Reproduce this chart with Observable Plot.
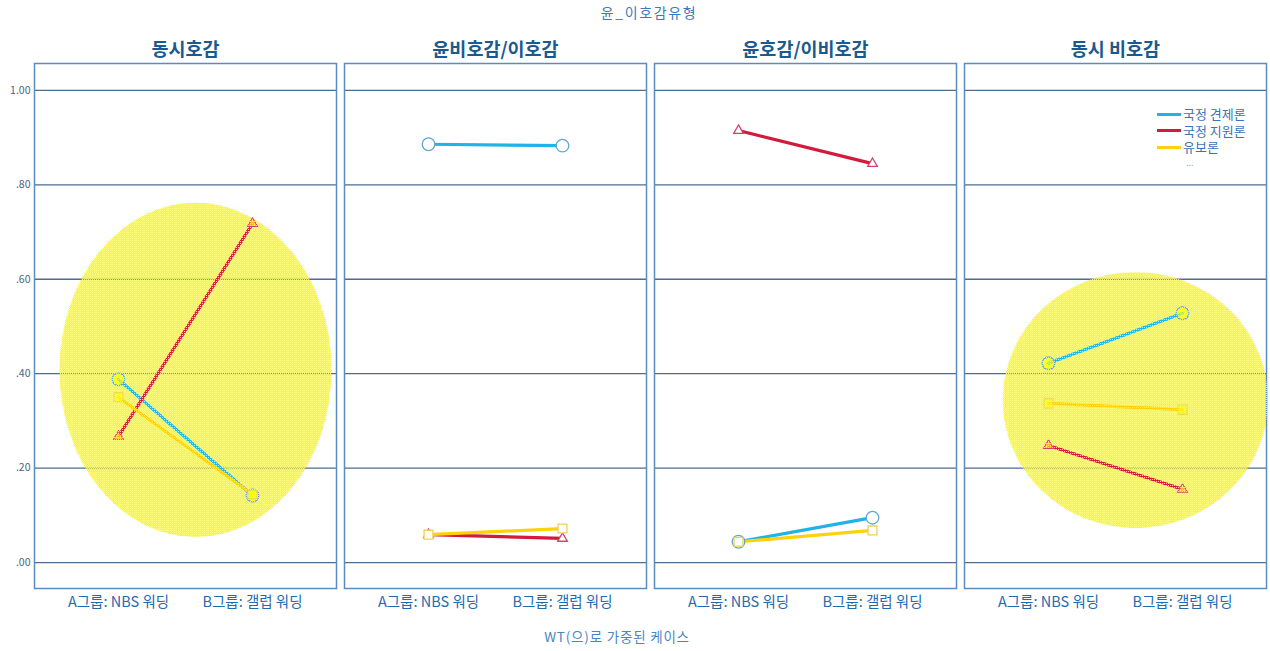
<!DOCTYPE html>
<html><head><meta charset="utf-8">
<script src="https://cdn.jsdelivr.net/npm/d3@7"></script>
<script src="https://cdn.jsdelivr.net/npm/@observablehq/plot@0.6"></script>
<style>
body{margin:0;background:#fff;font-family:"Noto Sans CJK KR","Noto Sans",sans-serif;}
#wrap{position:relative;width:1270px;height:651px;overflow:hidden;}
#title{position:absolute;left:0;top:2px;width:1298px;text-align:center;font-size:14px;letter-spacing:1.6px;line-height:20px;color:#3d7bb8;}
#chart{position:absolute;left:0;top:24px;}
#caption{position:absolute;left:0;top:626px;width:1234px;text-align:center;font-size:13.5px;letter-spacing:0.8px;line-height:20px;color:#4a86bf;}
#legend{position:absolute;left:1157px;top:106px;font-size:13px;line-height:16.5px;color:#3a74ba;}
#legend .row{display:flex;align-items:center;}
#legend .sw{width:24px;height:3px;margin-right:2px;}
#legend .more{color:#9aaabb;font-size:9px;line-height:9px;margin-top:2px;padding-left:29px;}
</style></head><body>
<div id="wrap">
<div id="title">윤_이호감유형</div>
<div id="chart"></div>
<div id="legend"></div>
<div id="caption">WT(으)로 가중된 케이스</div>
</div>
<script>
const panels = ["동시호감", "윤비호감/이호감", "윤호감/이비호감", "동시 비호감"];
const groups = ["A그룹: NBS 워딩", "B그룹: 갤럽 워딩"];
const series = ["국정 견제론", "국정 지원론", "유보론"];
const lineColors = ["#1fb3e8", "#d31a3c", "#fdd20c"];
const markerColors = ["#5ea8cf", "#d8406a", "#f0cf5a"];
const yTicks = [0, 0.2, 0.4, 0.6, 0.8, 1.0];
// values per panel: [A, B]
const gyeonje = [[0.388, 0.142], [0.886, 0.883], [0.044, 0.095], [0.422, 0.528]];
const jiwon   = [[0.267, 0.718], [0.059, 0.051], [0.915, 0.845], [0.248, 0.155]];
const yubo    = [[0.350, 0.144], [0.059, 0.072], [0.044, 0.068], [0.337, 0.324]];
// highlight ellipses: panel, center (fraction between A and B), center value, radius (A–B units), radius (value units)
const ellipsePanels = ["동시호감", "동시 비호감"];
const ellipseCx = [0.578, 0.652];
const ellipseCy = [0.407, 0.343];
const ellipseRx = [1.015, 0.99];
const ellipseRy = [0.354, 0.271];

const allVals = [gyeonje, jiwon, yubo];
const rows = [];
series.forEach((s, si) => panels.forEach((p, pi) => groups.forEach((g, gi) =>
  rows.push({panel: p, series: s, group: g, value: allVals[si][pi][gi]}))));
const ellipses = ellipsePanels.map((p, i) => ({panel: p, cx: ellipseCx[i], cy: ellipseCy[i], rx: ellipseRx[i], ry: ellipseRy[i]}));

const fmt = d => d3.format(".2f")(d).replace(/^0/, "");
const symbols = ["circle", "triangle", "square"];
const radii = [6.3, 3.6, 5.0];

function ellipseMark(patternId) {
  return Plot.dot(ellipses, {
    fx: "panel", x: () => groups[0], y: "cy",
    render(index, scales) {
      const g = d3.create("svg:g");
      const xa = scales.x(groups[0]), xb = scales.x(groups[1]), step = xb - xa;
      for (const i of index) {
        const d = ellipses[i];
        const cy = scales.y(d.cy);
        g.append("ellipse")
          .attr("cx", xa + d.cx * step).attr("cy", cy)
          .attr("rx", d.rx * step).attr("ry", Math.abs(scales.y(d.cy + d.ry) - cy))
          .attr("fill", `url(#${patternId})`);
      }
      return g.node();
    }
  });
}

const inEllipse = d => ellipsePanels.includes(d.panel);

const svg = Plot.plot({
  width: 1270, height: 600,
  marginTop: 39, marginBottom: 36, marginLeft: 33, marginRight: 3,
  style: {fontFamily: "'Noto Sans CJK KR', sans-serif", background: "white"},
  fx: {domain: panels, paddingInner: 0.0258, paddingOuter: 0, label: null},
  x: {type: "point", domain: groups, padding: 0.626, label: null},
  y: {domain: [-0.055, 1.057], label: null},
  color: {domain: series, range: lineColors},
  marks: [
    Plot.gridY(yTicks, {stroke: "#4d6d8f", strokeOpacity: 1, strokeWidth: 1.3}),
    ellipseMark("ditherBase"),
    Plot.frame({stroke: "#5a8cc2", strokeWidth: 1.5}),
    Plot.line(rows, {fx: "panel", x: "group", y: "value", z: "series", stroke: "series", strokeWidth: 3.2}),
    ...series.flatMap((s, si) => [
      Plot.dot(rows.filter(d => d.series === s && !inEllipse(d)), {
        fx: "panel", x: "group", y: "value", symbol: symbols[si], r: radii[si],
        stroke: markerColors[si], fill: "white", strokeWidth: 1.3
      }),
      Plot.dot(rows.filter(d => d.series === s && inEllipse(d)), {
        fx: "panel", x: "group", y: "value", symbol: symbols[si], r: radii[si],
        stroke: markerColors[si], fill: "url(#ditherBase)", strokeWidth: 1.3
      })
    ]),
    ellipseMark("ditherTop"),
    Plot.axisFx({anchor: "top", tickSize: 0, tickPadding: 8, fontSize: 18.5, fontWeight: "bold", fill: "#1b5a8e", label: null}),
    Plot.axisY(yTicks, {anchor: "left", tickSize: 0, tickPadding: 4, tickFormat: fmt, fontSize: 10.5, fill: "#4a6585", label: null}),
    Plot.axisX({anchor: "bottom", tickSize: 0, tickPadding: 8, fontSize: 14.5, fill: "#1f6bb0", label: null})
  ]
});

const defs = d3.select(svg).insert("defs", ":first-child");
const basePat = defs.append("pattern").attr("id", "ditherBase").attr("width", 2).attr("height", 2).attr("patternUnits", "userSpaceOnUse");
basePat.append("rect").attr("x", 0).attr("y", 0).attr("width", 1).attr("height", 1).attr("fill", "#ffff00");
basePat.append("rect").attr("x", 1).attr("y", 1).attr("width", 1).attr("height", 1).attr("fill", "#ffff00");
basePat.append("rect").attr("x", 1).attr("y", 0).attr("width", 1).attr("height", 1).attr("fill", "#ffff10").attr("opacity", 0.55);
basePat.append("rect").attr("x", 0).attr("y", 1).attr("width", 1).attr("height", 1).attr("fill", "#ffff60").attr("opacity", 0.2);
const topPat = defs.append("pattern").attr("id", "ditherTop").attr("width", 2).attr("height", 2).attr("patternUnits", "userSpaceOnUse");
topPat.append("rect").attr("x", 1).attr("y", 1).attr("width", 1).attr("height", 1).attr("fill", "#ffff00").attr("opacity", 0.9);
document.getElementById("chart").appendChild(svg);

const legend = d3.select("#legend");
series.forEach((s, i) => {
  const r = legend.append("div").attr("class", "row");
  r.append("div").attr("class", "sw").style("background", lineColors[i]);
  r.append("span").text(s);
});
legend.append("div").attr("class", "more").text("...");
</script>
</body></html>
